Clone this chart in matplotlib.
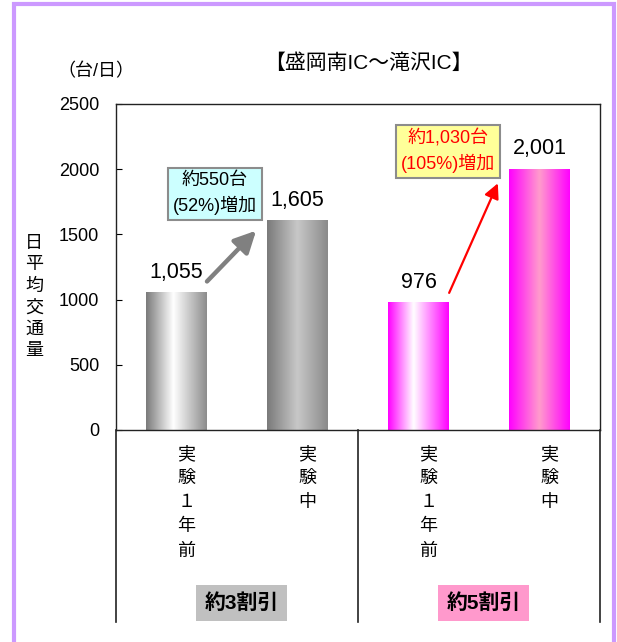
import matplotlib
matplotlib.use('Agg')
import matplotlib.pyplot as plt
import matplotlib.patches as mpatches
import matplotlib.transforms as mtransforms
from matplotlib.colors import LinearSegmentedColormap
import numpy as np

plt.rcParams['font.family'] = ['Liberation Sans', 'Noto Sans CJK JP', 'DejaVu Sans']

categories = ['実\n験\n１\n年\n前', '実\n験\n中', '実\n験\n１\n年\n前', '実\n験\n中']
values = [1055, 1605, 976, 2001]
value_labels = ['1,055', '1,605', '976', '2,001']
groups = ['約3割引', '約5割引']
group_colors = ['#c0c0c0', '#ff99cc']
notes = ['約550台\n(52%)増加', '約1,030台\n(105%)増加']
yticks = [0, 500, 1000, 1500, 2000, 2500]

# gradient stops per bar: (edge, highlight, edge) and highlight position
bar_shades = [
    (['#7a7a7a', '#ffffff', '#8c8c8c'], 0.45),
    (['#7a7a7a', '#c8c8c8', '#8a8a8a'], 0.5),
    (['#ff00ff', '#ffffff', '#ff00ff'], 0.42),
    (['#ff00ff', '#ff9ccc', '#ff00ff'], 0.5),
]

fig = plt.figure(figsize=(6.17, 6.42), dpi=100)
ax = fig.add_axes([116/617, 1 - 430/642, 484/617, 326/642])

x = np.arange(len(values))
bars = ax.bar(x, values, width=0.5, color='none', zorder=2)

for b, (cols, mid) in zip(bars, bar_shades):
    cmap = LinearSegmentedColormap.from_list('g', list(zip([0, mid, 1], cols)))
    grad = np.linspace(0, 1, 256).reshape(1, -1)
    x0 = b.get_x()
    ax.imshow(grad, cmap=cmap, extent=[x0, x0 + b.get_width(), 0, b.get_height()],
              aspect='auto', zorder=2, interpolation='bicubic')

for b, lab in zip(bars, value_labels):
    ax.annotate(lab, (b.get_x() + b.get_width() / 2, b.get_height()),
                xytext=(0, 7), textcoords='offset points',
                ha='center', va='bottom', fontsize=15.5)

ax.set_xlim(-0.5, len(values) - 0.5)
ax.set_ylim(0, 2500)
ax.set_yticks(yticks)
ax.set_yticklabels([str(t) for t in yticks], fontsize=13)
ax.tick_params(axis='y', direction='in', length=4, pad=12)
ax.set_xticks([])
for s in ax.spines.values():
    s.set_linewidth(1.0)
    s.set_color('#222222')

# increase callouts
ax.annotate('', xy=(0.674, 1544), xytext=(0.236, 1124),
            arrowprops=dict(arrowstyle='-|>,head_length=1.3,head_width=0.65',
                            color='#808080', lw=3.2))
ax.text(0.318, 1812, notes[0], ha='center', va='center', fontsize=13,
        linespacing=1.45,
        bbox=dict(boxstyle='square,pad=0.25', fc='#ccffff', ec='#8c8c8c', lw=1.5))
ax.annotate('', xy=(2.665, 1911), xytext=(2.244, 1032),
            arrowprops=dict(arrowstyle='-|>,head_length=0.9,head_width=0.45',
                            color='#ff0000', lw=1.6))
ax.text(2.244, 2137, notes[1], ha='center', va='center', fontsize=13,
        color='#ff0000', linespacing=1.45,
        bbox=dict(boxstyle='square,pad=0.25', fc='#ffff99', ec='#8c8c8c', lw=1.5))

# category area under the axis
trans = mtransforms.blended_transform_factory(ax.transData, ax.transAxes)
bottom = (430 - 622) / 326
for xv in [-0.5, 1.5, 3.5]:
    ax.plot([xv, xv], [0, bottom], color='#222222', lw=1.2,
            transform=trans, clip_on=False)
for xi, lab in zip(x, categories):
    ax.text(xi + 0.08, (430 - 446) / 326, lab, transform=trans,
            ha='center', va='top', fontsize=13, linespacing=1.55)
for gi, (g, c) in enumerate(zip(groups, group_colors)):
    ax.text(gi * 2 + 0.54, (430 - 603) / 326, g, transform=trans,
            ha='center', va='center', fontsize=15, fontweight='bold',
            bbox=dict(boxstyle='square,pad=0.4', fc=c, ec='none'))

fig.text(368/617, 1 - 63/642, '【盛岡南IC～滝沢IC】', ha='center', va='center', fontsize=15)
fig.text(96/617, 1 - 72/642, '（台/日）', ha='center', va='center', fontsize=13)
fig.text(34/617, 1 - 297/642, '日\n平\n均\n交\n通\n量', ha='center', va='center',
         fontsize=13, linespacing=1.35)

# outer frame
fig.patches.append(mpatches.Rectangle((14/617, -0.05), 600/617, 1.05 - 4/642,
                                      transform=fig.transFigure, fill=False,
                                      ec='#cc99ff', lw=3))

fig.savefig('out.png', dpi=100)
